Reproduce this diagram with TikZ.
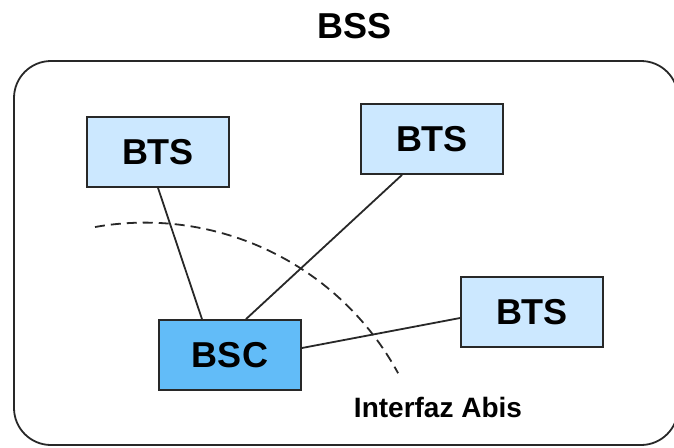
\documentclass[tikz,border=0pt]{standalone}
\usepackage{fontspec}
\setmainfont{Liberation Sans}
\definecolor{btsblue}{RGB}{204,232,255}
\definecolor{bscblue}{RGB}{98,188,248}
\definecolor{edgegray}{RGB}{40,40,40}

\begin{document}
\begin{tikzpicture}[x=1pt,y=-1pt]
    \tikzstyle{every node}+=[inner sep=0pt]
    \tikzstyle{btsbox}=[draw=edgegray, line width=1.8pt, fill=btsblue, minimum width=142pt, minimum height=70pt, font=\fontsize{36}{36}\selectfont\bfseries]
    \tikzstyle{bscbox}=[btsbox, fill=bscblue]
    \tikzstyle{link}=[edgegray, line width=1.8pt]
    \useasboundingbox (0,0) rectangle (674,447);
    \clip (0,0) rectangle (674,447);
    % outer frame
    \draw [edgegray, line width=1.8pt, rounded corners=37pt] (14,61) rectangle (678,445);
    \node (bss) at (355,26) {\fontsize{36}{36}\selectfont\bfseries BSS};
    % boundary of the interface
    \draw [edgegray, line width=1.8pt, dash pattern=on 10pt off 6pt] (95,227) arc [start angle=-100, end angle=-28.5, radius=288];
    \node (abis) at (438,407) {\fontsize{28}{28}\selectfont\bfseries Interfaz Abis};
    \node [btsbox] (bts1) at (158,152) {BTS};
    \node [btsbox] (bts2) at (432,139) {BTS};
    \node [btsbox] (bts3) at (532,312) {BTS};
    \node [bscbox] (bsc) at (230,355) {BSC};
    \draw [link] (bts1.south) -- ([xshift=-28pt]bsc.north);
    \draw [link] ([xshift=-30pt]bts2.south) -- ([xshift=16pt]bsc.north);
    \draw [link] ([yshift=-6pt]bts3.west) -- ([yshift=7pt]bsc.east);
\end{tikzpicture}
\end{document}
